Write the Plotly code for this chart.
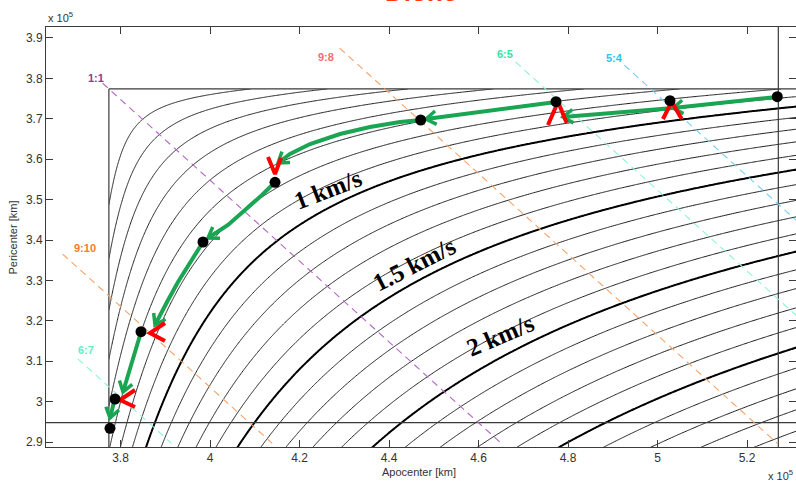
import numpy as np
import plotly.graph_objects as go

# ---------------- data (units: 1e5 km, km/s) ----------------
R_DIONE = 3.774          # Dione orbital radius
V_DIONE = 10.025         # Dione circular speed
RP_LIMIT = 2.948         # minimum pericenter line
RA_LIMIT = 5.27          # maximum apocenter line

VINF_THIN = [0.2, 2.9, 0.1]     # start, end, step of v_inf contours
VINF_THICK = [1.0, 2.5, 0.5]    # highlighted contours

X_TICKS = [3.8, 4.0, 4.2, 4.4, 4.6, 4.8, 5.0, 5.2]
X_TICKTEXT = ["3.8", "4", "4.2", "4.4", "4.6", "4.8", "5", "5.2"]
Y_TICKS = [2.9, 3.0, 3.1, 3.2, 3.3, 3.4, 3.5, 3.6, 3.7, 3.8, 3.9]
Y_TICKTEXT = ["2.9", "3", "3.1", "3.2", "3.3", "3.4", "3.5", "3.6", "3.7", "3.8", "3.9"]

# resonances: label, period ratio, start pericenter, end pericenter
RES_LABELS = ["1:1", "9:8", "6:5", "5:4", "9:10", "6:7"]
RES_RATIO = [1.0, 9 / 8, 6 / 5, 5 / 4, 9 / 10, 6 / 7]
RES_RP_START = [3.788, 3.875, 3.8406, 3.833, 3.3653, 3.106]
RES_RP_END = [2.897, 2.897, 2.897, 2.897, 2.897, 2.897]
RES_LINE_COLORS = ["#b466c4", "#f5a36a", "#8ff2d6", "#74cff5", "#f5a36a", "#8ff2d6"]
RES_TEXT_COLORS = ["#993399", "#f26d6d", "#3be0a6", "#2ec3f2", "#ff7a26", "#5cf0c2"]
RES_LABEL_RA = [3.7453, 4.2592, 4.6592, 4.9050, 3.7207, 3.7229]
RES_LABEL_RP = [3.801, 3.853, 3.8604, 3.8505, 3.3803, 3.1279]

# trajectory nodes (black dots)
DOT_RA = [5.2677, 5.0279, 4.7732, 4.4708, 4.1453, 3.9844, 3.8458, 3.7877, 3.7765]
DOT_RP = [3.7547, 3.7448, 3.7424, 3.6971, 3.5429, 3.3952, 3.1732, 3.0067, 2.9342]

# green trajectory legs (each ends with an arrow head)
LEG_RA = [
    [5.2670, 5.0346],
    [5.0346, 4.7888],
    [4.7732, 4.4827],
    [4.4708, 4.4246, 4.3575, 4.2905, 4.2235, 4.1788, 4.1520],
    [4.1453, 4.1162, 4.0782, 4.0402, 3.9955],
    [3.9844, 3.9553, 3.9285, 3.9039, 3.8771],
    [3.8458, 3.8056],
    [3.7855, 3.7765],
]
LEG_RP = [
    [3.7540, 3.7268],
    [3.7268, 3.7045],
    [3.7416, 3.6996],
    [3.6971, 3.6921, 3.6798, 3.6624, 3.6377, 3.6129, 3.5907],
    [3.5429, 3.5115, 3.4744, 3.4372, 3.4051],
    [3.3952, 3.3457, 3.2962, 3.2467, 3.1898],
    [3.1725, 3.0240],
    [2.9992, 2.9596],
]

# red flyby chevrons (leg, apex, leg)
FLYBY_RA = [
    [5.0123, 5.0317, 5.0541],
    [4.7553, 4.7777, 4.7971],
    [4.1296, 4.1453, 4.1587],
    [3.8994, 3.8659, 3.8994],
    [3.8324, 3.7989, 3.8324],
]
FLYBY_RP = [
    [3.6996, 3.7424, 3.6996],
    [3.6847, 3.7424, 3.6897],
    [3.6055, 3.5634, 3.6030],
    [3.1947, 3.1700, 3.1502],
    [3.0289, 3.0042, 2.9869],
]

SPEED_LABELS = ["1 km/s", "1.5 km/s", "2 km/s"]
SPEED_RA = [4.2637, 4.4559, 4.6480]
SPEED_RP = [3.5239, 3.3383, 3.1650]
SPEED_ANGLE = [-21, -27, -23]

X_RANGE = [3.6335, 5.3095]
Y_RANGE = [2.8879, 3.9272]

GREEN = "#1aa553"
AXIS_COL = "#3a3a3a"

W, H = 796, 483
M_L, M_R, M_T, M_B = 46, 0, 27, 36
PX_X = (W - M_L - M_R) / (X_RANGE[1] - X_RANGE[0])   # pixels per data unit
PX_Y = (H - M_T - M_B) / (Y_RANGE[1] - Y_RANGE[0])

# ---------------- v_inf field (Tisserand relation) ----------------
u = np.linspace(0, 1, 520)
ra_grid = R_DIONE + (5.40 - R_DIONE) * u ** 1.7
rp_grid = np.sort(R_DIONE - (R_DIONE - 2.84) * np.linspace(0, 1, 420) ** 1.7)
RA, RP = np.meshgrid(ra_grid, rp_grid)
sma = (RA + RP) / 2.0
slr = 2.0 * RA * RP / (RA + RP)
tis = 3.0 - R_DIONE / sma - 2.0 * np.sqrt(slr / R_DIONE)
vinf = V_DIONE * np.sqrt(np.clip(tis, 0, None))

fig = go.Figure()

fig.add_trace(go.Contour(
    x=ra_grid, y=rp_grid, z=vinf, showscale=False, hoverinfo="skip",
    autocontour=False,
    contours=dict(coloring="none", start=VINF_THIN[0], end=VINF_THIN[1], size=VINF_THIN[2]),
    line=dict(color="#1e1e1e", width=1.0, smoothing=1),
))
fig.add_trace(go.Contour(
    x=ra_grid, y=rp_grid, z=vinf, showscale=False, hoverinfo="skip",
    autocontour=False,
    contours=dict(coloring="none", start=VINF_THICK[0], end=VINF_THICK[1], size=VINF_THICK[2]),
    line=dict(color="#000000", width=2.0, smoothing=1),
))

# boundary lines
fig.add_trace(go.Scatter(x=[X_RANGE[0] - 1, X_RANGE[1] + 1], y=[RP_LIMIT, RP_LIMIT], mode="lines",
                         line=dict(color=AXIS_COL, width=1.2), hoverinfo="skip"))
fig.add_trace(go.Scatter(x=[R_DIONE, X_RANGE[1] + 1], y=[R_DIONE, R_DIONE], mode="lines",
                         line=dict(color=AXIS_COL, width=1.2), hoverinfo="skip"))
fig.add_trace(go.Scatter(x=[R_DIONE, R_DIONE], y=[R_DIONE, Y_RANGE[0] - 1], mode="lines",
                         line=dict(color=AXIS_COL, width=1.2), hoverinfo="skip"))
fig.add_trace(go.Scatter(x=[RA_LIMIT, RA_LIMIT], y=[Y_RANGE[1] + 1, Y_RANGE[0] - 1], mode="lines",
                         line=dict(color=AXIS_COL, width=1.2), hoverinfo="skip"))

# resonance lines (constant semi-major axis: ra + rp = 2a)
for lab, ratio, r0, r1, lc, tc, lx, ly in zip(RES_LABELS, RES_RATIO, RES_RP_START, RES_RP_END,
                                              RES_LINE_COLORS, RES_TEXT_COLORS, RES_LABEL_RA, RES_LABEL_RP):
    a_res = R_DIONE * ratio ** (2.0 / 3.0)
    rps = np.array([r0, r1])
    fig.add_trace(go.Scatter(x=2 * a_res - rps, y=rps, mode="lines",
                             line=dict(color=lc, width=1.1, dash="7px,5px"), hoverinfo="skip"))
    fig.add_annotation(x=lx, y=ly, xref="x", yref="y", text="<b>" + lab + "</b>", showarrow=False,
                       font=dict(family="Liberation Sans, Arial", size=11, color=tc))

# green trajectory with open arrow heads
HEAD_LEN, HEAD_HALF_ANGLE = 12.0, np.radians(34)
for lx, ly in zip(LEG_RA, LEG_RP):
    fig.add_trace(go.Scatter(x=lx, y=ly, mode="lines", line=dict(color=GREEN, width=4),
                             hoverinfo="skip"))
    # direction of travel at the tip, in screen pixels (y down)
    dx = (lx[-1] - lx[-2]) * PX_X
    dy = -(ly[-1] - ly[-2]) * PX_Y
    ang = np.arctan2(dy, dx)
    hx, hy = [], []
    for s in (1, -1):
        back = ang + np.pi + s * HEAD_HALF_ANGLE
        hx.append(lx[-1] + HEAD_LEN * np.cos(back) / PX_X)
        hy.append(ly[-1] - HEAD_LEN * np.sin(back) / PX_Y)
    fig.add_trace(go.Scatter(x=[hx[0], lx[-1], hx[1]], y=[hy[0], ly[-1], hy[1]], mode="lines",
                             line=dict(color=GREEN, width=3.5), hoverinfo="skip"))

# red flyby chevrons
for fx, fy in zip(FLYBY_RA, FLYBY_RP):
    fig.add_trace(go.Scatter(x=fx, y=fy, mode="lines", line=dict(color="#ff0000", width=4),
                             hoverinfo="skip"))

# dots
fig.add_trace(go.Scatter(x=DOT_RA, y=DOT_RP, mode="markers",
                         marker=dict(color="black", size=11), hoverinfo="skip"))

# speed labels
for t, x, y, ang in zip(SPEED_LABELS, SPEED_RA, SPEED_RP, SPEED_ANGLE):
    fig.add_annotation(x=x, y=y, xref="x", yref="y", text="<b>" + t + "</b>", showarrow=False,
                       textangle=ang,
                       font=dict(family="Liberation Serif, Times New Roman", size=25, color="black"))

# title (mostly cut off at the top)
fig.add_annotation(x=0.5, y=1, xref="paper", yref="paper", text="<b>Dione</b>", showarrow=False,
                   xanchor="center", yanchor="bottom", yshift=18,
                   font=dict(family="Liberation Sans, Arial", size=26, color="#ff3a12"))

# axis titles and exponent labels
lab_font = dict(family="Liberation Sans, Arial", size=11, color="#333333")
fig.add_annotation(x=0.4967, y=-0.0595, xref="paper", yref="paper", text="Apocenter [km]",
                   showarrow=False, font=lab_font, xanchor="center", yanchor="middle")
fig.add_annotation(x=-0.044, y=0.4988, xref="paper", yref="paper", text="Pericenter [km]",
                   showarrow=False, font=lab_font, textangle=-90, xanchor="center", yanchor="middle")
fig.add_annotation(x=0.0, y=1.0238, xref="paper", yref="paper", text="x 10<sup>5</sup>",
                   showarrow=False, font=lab_font, xanchor="left", yanchor="middle")
fig.add_annotation(x=0.9987, y=-0.0667, xref="paper", yref="paper", text="x 10<sup>5</sup>",
                   showarrow=False, font=lab_font, xanchor="right", yanchor="middle")

tick_font = dict(family="Liberation Sans, Arial", size=12, color="#333333")
fig.update_layout(
    width=W, height=H,
    margin=dict(l=M_L, r=M_R, t=M_T, b=M_B, autoexpand=False),
    paper_bgcolor="white", plot_bgcolor="white",
    showlegend=False,
    xaxis=dict(range=X_RANGE, showgrid=False, zeroline=False, showline=True, linecolor=AXIS_COL,
               linewidth=1, mirror="ticks", ticks="inside", ticklen=7, tickcolor=AXIS_COL,
               tickvals=X_TICKS, ticktext=X_TICKTEXT, tickfont=tick_font, automargin=False),
    yaxis=dict(range=Y_RANGE, showgrid=False, zeroline=False, showline=True, linecolor=AXIS_COL,
               linewidth=1, mirror="ticks", ticks="inside", ticklen=7, tickcolor=AXIS_COL,
               tickvals=Y_TICKS, ticktext=Y_TICKTEXT, tickfont=tick_font, automargin=False),
)

fig.write_html("out.html")
